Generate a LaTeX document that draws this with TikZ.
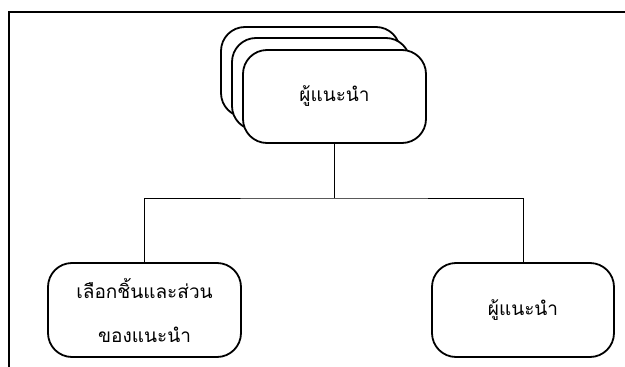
\documentclass[tikz,border=0pt]{standalone}
\usepackage{fontspec}
\usepackage{tikz}
\usetikzlibrary{calc, positioning}
\newfontfamily\thaifont[Script=Thai]{Loma}

\tikzset{
  card/.style={draw, line width=1.8pt, rounded corners=24pt, fill=white,
    align=center, font=\thaifont\fontsize{19}{44}\selectfont},
  link/.style={line width=0.6pt}
}

\begin{document}
\begin{tikzpicture}[x=1pt, y=-1pt]
  \useasboundingbox (0,0) rectangle (625,367);
  % outer frame
  \draw [line width=1.2pt] (9,367) -- (9,12) -- (625,12);
  % stacked cards at the top
  \node [card, minimum width=179pt, minimum height=90pt] (back) at (310.5,72) {};
  \node [card, minimum width=178pt, minimum height=92pt] (mid) at (321,84) {};
  \node [card, minimum width=183pt, minimum height=93pt] (leader) at (334.5,96.5) {ผู้แนะนำ};
  % the two children
  \node [card, minimum width=193pt, minimum height=94pt] (choice) at (144.5,310) {เลือกชิ้นและส่วน\\ของแนะนำ};
  \node [card, minimum width=182pt, minimum height=94pt] (helper) at (523,310) {ผู้แนะนำ};
  \coordinate (fork) at (334.5,198);
  \draw [link] (leader.south) -- (fork);
  \draw [link] (choice.north) |- (fork) -| (helper.north);
\end{tikzpicture}
\end{document}
